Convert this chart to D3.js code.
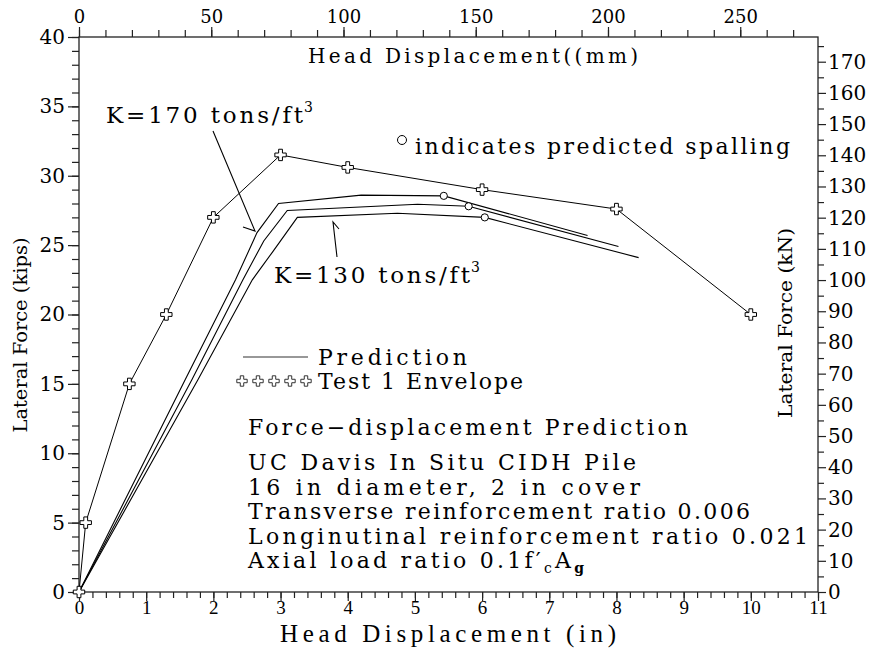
<!DOCTYPE html>
<html><head><meta charset="utf-8">
<script src="https://cdn.jsdelivr.net/npm/d3@7"></script>
<style>
body{margin:0;background:#fff}
svg{display:block}
text{font-family:"DejaVu Serif",serif;fill:#000}
.narrow{font-family:"Liberation Serif","Times New Roman",serif}
</style>
</head><body>
<svg id="chart" width="874" height="649"></svg>
<script>
// Test 1 envelope (in, kips)
const envelopeDisp  = [0, 0.1, 0.75, 1.3, 2.0, 3.0, 4.0, 6.0, 8.0, 10.0];
const envelopeForce = [0, 5, 15, 20, 27, 31.5, 30.6, 29, 27.6, 20];

// Predicted force-displacement curves (in, kips)
const predADisp  = [0, 1.58, 2.33, 2.65, 2.97, 4.2, 5.43, 7.57];
const predAForce = [0, 15.3, 22.5, 25.9, 28.0, 28.6, 28.55, 25.7];
const predBDisp  = [0, 1.68, 2.44, 2.75, 3.1, 5.04, 5.8, 8.03];
const predBForce = [0, 15.3, 22.5, 25.3, 27.5, 27.95, 27.8, 24.9];
const predCDisp  = [0, 1.77, 2.58, 2.88, 3.25, 4.74, 6.04, 8.33];
const predCForce = [0, 15.3, 22.5, 24.5, 27.0, 27.3, 27.0, 24.1];

// Predicted spalling points
const spallDisp  = [5.43, 5.8, 6.04];
const spallForce = [28.55, 27.8, 27.0];

// Axis ticks
const inchTicks   = d3.range(0, 12);
const inchMinor   = d3.range(0, 11.01, 0.2);
const kipTicks    = d3.range(0, 41, 5);
const kipMinor    = d3.range(0, 41, 1);
const mmTicks     = [0, 50, 100, 150, 200, 250];
const mmMinor     = d3.range(0, 280, 10);
const kNTicks     = d3.range(0, 171, 10);
const kNMinor     = d3.range(5, 176, 10);

const infoLines = [
  "UC Davis In Situ CIDH Pile",
  "16 in diameter, 2 in cover",
  "Transverse reinforcement ratio 0.006",
  "Longinutinal reinforcement ratio 0.021"
];

const svg = d3.select("#chart");
const L = 79, R = 818, T = 37, B = 592;

const x = d3.scaleLinear().domain([0, 11]).range([L, R]);
const y = d3.scaleLinear().domain([0, 40]).range([B, T]);
const xmm = d3.scaleLinear().domain([0, 11 * 25.4]).range([L, R]);
const ykN = d3.scaleLinear().domain([0, 40 * 4.448]).range([B, T]);

function styleAxis(g, fs, cls) {
  g.select(".domain").remove();
  g.selectAll(".tick line").attr("stroke", "#222").attr("stroke-width", 1.2);
  g.selectAll("text").attr("font-size", fs).attr("fill", "#000")
    .attr("font-family", null).attr("class", cls || null);
}

// bottom axis
svg.append("g").attr("transform", `translate(0,${B})`)
  .call(d3.axisBottom(x).tickValues(inchMinor).tickSize(6).tickFormat(""))
  .call(g => styleAxis(g, 0));
svg.append("g").attr("transform", `translate(0,${B})`)
  .call(d3.axisBottom(x).tickValues(inchTicks).tickSize(9).tickPadding(0).tickFormat(d3.format("d")))
  .call(g => styleAxis(g, 19, "narrow"));

// left axis
svg.append("g").attr("transform", `translate(${L},0)`)
  .call(d3.axisLeft(y).tickValues(kipMinor).tickSize(7).tickFormat(""))
  .call(g => styleAxis(g, 0));
svg.append("g").attr("transform", `translate(${L},0)`)
  .call(d3.axisLeft(y).tickValues(kipTicks).tickSize(11).tickPadding(3).tickFormat(d3.format("d")))
  .call(g => styleAxis(g, 20));

// top axis (mm)
svg.append("g").attr("transform", `translate(0,${T})`)
  .call(d3.axisTop(xmm).tickValues(mmMinor).tickSize(7).tickFormat(""))
  .call(g => styleAxis(g, 0));
svg.append("g").attr("transform", `translate(0,${T})`)
  .call(d3.axisTop(xmm).tickValues(mmTicks).tickSize(10).tickPadding(4).tickFormat(d3.format("d")))
  .call(g => styleAxis(g, 18));

// right axis (kN)
svg.append("g").attr("transform", `translate(${R},0)`)
  .call(d3.axisRight(ykN).tickValues(kNMinor).tickSize(6).tickFormat(""))
  .call(g => styleAxis(g, 0));
svg.append("g").attr("transform", `translate(${R},0)`)
  .call(d3.axisRight(ykN).tickValues(kNTicks).tickSize(8).tickPadding(2).tickFormat(d3.format("d")))
  .call(g => styleAxis(g, 20));

// frame
svg.append("rect").attr("x", L).attr("y", T).attr("width", R - L).attr("height", B - T)
  .attr("fill", "none").attr("stroke", "#222").attr("stroke-width", 1.3);

// axis titles
svg.append("text").attr("class", "narrow").attr("x", 448).attr("y", 642)
  .attr("text-anchor", "middle").attr("font-size", 25)
  .attr("textLength", 336).attr("lengthAdjust", "spacing")
  .text("Head Displacement (in)");
svg.append("text").attr("x", 308).attr("y", 63).attr("font-size", 20)
  .attr("textLength", 330).attr("lengthAdjust", "spacing")
  .text("Head Displacement((mm)");
svg.append("text").attr("transform", "translate(27,335) rotate(-90)")
  .attr("text-anchor", "middle").attr("font-size", 18)
  .attr("textLength", 195).attr("lengthAdjust", "spacingAndGlyphs")
  .text("Lateral Force (kips)");
svg.append("text").attr("transform", "translate(792,323) rotate(-90)")
  .attr("text-anchor", "middle").attr("font-size", 18)
  .attr("textLength", 190).attr("lengthAdjust", "spacingAndGlyphs")
  .text("Lateral Force (kN)");

const toPts = (xs, ys) => xs.map((d, i) => [d, ys[i]]);
const line = d3.line().x(d => x(d[0])).y(d => y(d[1]));

// prediction curves
[[predADisp, predAForce], [predBDisp, predBForce], [predCDisp, predCForce]].forEach(([xs, ys]) => {
  svg.append("path").datum(toPts(xs, ys)).attr("d", line)
    .attr("fill", "none").attr("stroke", "#000").attr("stroke-width", 1.1);
});

// spalling markers
svg.selectAll(".spall").data(toPts(spallDisp, spallForce)).enter().append("circle")
  .attr("cx", d => x(d[0])).attr("cy", d => y(d[1])).attr("r", 3.6)
  .attr("fill", "#fff").attr("stroke", "#000").attr("stroke-width", 1);

// test envelope
const env = toPts(envelopeDisp, envelopeForce);
svg.append("path").datum(env).attr("d", line)
  .attr("fill", "none").attr("stroke", "#000").attr("stroke-width", 1);
const cross = d3.symbol().type(d3.symbolCross).size(72);
svg.selectAll(".env").data(env).enter().append("path")
  .attr("d", cross).attr("transform", d => `translate(${x(d[0])},${y(d[1])})`)
  .attr("fill", "#fff").attr("stroke", "#000").attr("stroke-width", 1);

// stiffness annotations
svg.append("text").attr("x", 106).attr("y", 123).attr("font-size", 23)
  .attr("textLength", 197).attr("lengthAdjust", "spacing")
  .text("K=170  tons/ft");
svg.append("text").attr("x", 304).attr("y", 112).attr("font-size", 14).text("3");
svg.append("path").attr("d", "M213,131 L255,231 L243,227")
  .attr("fill", "none").attr("stroke", "#000").attr("stroke-width", 1.1);

svg.append("text").attr("x", 274).attr("y", 283).attr("font-size", 23)
  .attr("textLength", 196).attr("lengthAdjust", "spacing")
  .text("K=130  tons/ft");
svg.append("text").attr("x", 471).attr("y", 272).attr("font-size", 14).text("3");
svg.append("path").attr("d", "M337,257 L333,222 L339,229")
  .attr("fill", "none").attr("stroke", "#000").attr("stroke-width", 1.1);

// spalling note
svg.append("circle").attr("cx", 402).attr("cy", 140).attr("r", 4.5)
  .attr("fill", "none").attr("stroke", "#000").attr("stroke-width", 1);
svg.append("text").attr("x", 415).attr("y", 154).attr("font-size", 22)
  .attr("textLength", 375).attr("lengthAdjust", "spacing")
  .text("indicates predicted spalling");

// legend
svg.append("line").attr("x1", 243).attr("x2", 308).attr("y1", 357).attr("y2", 357)
  .attr("stroke", "#333").attr("stroke-width", 1.2);
svg.append("text").attr("x", 318).attr("y", 365).attr("font-size", 22)
  .attr("textLength", 149).attr("lengthAdjust", "spacing").text("Prediction");
const legendCross = d3.symbol().type(d3.symbolCross).size(60);
svg.selectAll(".legCross").data(d3.range(5)).enter().append("path")
  .attr("d", legendCross).attr("transform", i => `translate(${242 + i * 16},381)`)
  .attr("fill", "#fff").attr("stroke", "#333").attr("stroke-width", 1);
svg.append("text").attr("x", 318).attr("y", 389).attr("font-size", 22)
  .attr("textLength", 205).attr("lengthAdjust", "spacing").text("Test 1 Envelope");

// description block
svg.append("text").attr("x", 248).attr("y", 435).attr("font-size", 22)
  .attr("textLength", 440).attr("lengthAdjust", "spacing").text("Force\u2212displacement Prediction");
const infoWidths = [388, 392, 502, 560];
infoLines.forEach((t, i) => {
  svg.append("text").attr("x", 248).attr("y", 470 + i * 24.5).attr("font-size", 22)
    .attr("textLength", infoWidths[i]).attr("lengthAdjust", "spacing").text(t);
});
const ax = svg.append("text").attr("x", 248).attr("y", 568).attr("font-size", 22)
  .attr("textLength", 336).attr("lengthAdjust", "spacing");
ax.append("tspan").text("Axial load ratio 0.1f\u2032");
ax.append("tspan").attr("font-size", 14).attr("dy", 5).text("c");
ax.append("tspan").attr("dy", -5).text("A");
ax.append("tspan").attr("font-size", 14).attr("dy", 5).attr("font-weight", "bold").text("g");
</script>
</body></html>
